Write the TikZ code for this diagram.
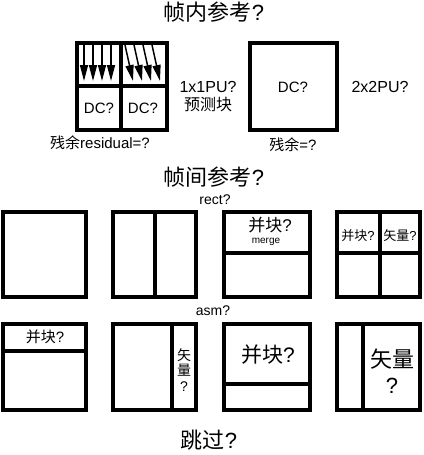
\documentclass[tikz,border=0pt]{standalone}
\usepackage{fontspec}
\setmainfont{Liberation Sans}
\newfontfamily\cjk{Noto Sans CJK SC}
\usetikzlibrary{arrows.meta}
\begin{document}
\begin{tikzpicture}[x=1pt,y=-1pt,
  frame/.style={line width=3.5pt},
  arr/.style={line width=1.5pt,-{Triangle[width=8pt,length=16pt]}},
  ttl/.style={inner sep=0pt,font=\fontsize{22}{24}\selectfont},
  lbl/.style={inner sep=0pt,font=\fontsize{15}{17}\selectfont},
  pul/.style={inner sep=0pt,font=\fontsize{16}{18}\selectfont},
  sub/.style={inner sep=0pt,font=\fontsize{14}{16}\selectfont}]
\useasboundingbox (0,0) rectangle (423,455);

% ---- intra ----
\node[ttl] (t1) at (214,12) {{\cjk 帧内参考}?};

% box A (1x1 PU)
\draw[frame] (77,43) rectangle (167,130);
\draw[frame] (121,43) -- (121,130);
\draw[frame] (77,86) -- (167,86);
\foreach \x in {84,93,102,111} \draw[arr] (\x,45) -- (\x,81);
\foreach \x in {125,134,143,152} \draw[arr] (\x,45) -- (\x+8,81);
\node[lbl] (dc1) at (99,108) {DC?};
\node[lbl] (dc2) at (143,108) {DC?};
\node[pul] (pu1) at (208,87) {1x1PU?};
\node[pul] (yc) at (208,105) {\cjk 预测块};
\node[lbl] (res1) at (100,143) {{\cjk 残余}residual=?};

% box B (2x2 PU)
\draw[frame] (250,43) rectangle (337,130);
\node[lbl] (dc3) at (293,87) {DC?};
\node[pul] (pu2) at (380,87) {2x2PU?};
\node[lbl] (res2) at (293,145) {{\cjk 残余}=?};

% ---- inter ----
\node[ttl] (t2) at (214,177) {{\cjk 帧间参考}?};
\node[sub] (rect) at (215,200) {rect?};

% row 1
\draw[frame] (3,212) rectangle (86,297);
\draw[frame] (113,212) rectangle (196,297);
\draw[frame] (155,212) -- (155,297);
\draw[frame] (224,212) rectangle (310,297);
\draw[frame] (224,253) -- (310,253);
\node[inner sep=0pt,font=\fontsize{17}{19}\selectfont] (m1) at (270,225) {{\cjk 并块}?};
\node[inner sep=0pt,font=\fontsize{10}{12}\selectfont] (mg) at (266,242) {merge};
\draw[frame] (337,212) rectangle (420,297);
\draw[frame] (380,212) -- (380,297);
\draw[frame] (337,253) -- (420,253);
\node[inner sep=0pt,font=\fontsize{13}{15}\selectfont] (m2) at (358,236) {{\cjk 并块}?};
\node[inner sep=0pt,font=\fontsize{13}{15}\selectfont] (v1) at (400,236) {{\cjk 矢量}?};

\node[sub] (asm) at (213,311) {asm?};

% row 2
\draw[frame] (3,324) rectangle (86,410);
\draw[frame] (3,351) -- (86,351);
\node[inner sep=0pt,font=\fontsize{15}{17}\selectfont] (m3) at (45,337) {{\cjk 并块}?};
\draw[frame] (113,324) rectangle (196,410);
\draw[frame] (172,324) -- (172,410);
\node[inner sep=0pt,font=\fontsize{14}{16}\selectfont,align=center] (v2) at (184,370) {{\cjk 矢}\\[-1pt]{\cjk 量}\\?};
\draw[frame] (224,324) rectangle (310,410);
\draw[frame] (224,384) -- (310,384);
\node[inner sep=0pt,font=\fontsize{21}{23}\selectfont] (m4) at (268,355) {{\cjk 并块}?};
\draw[frame] (337,324) rectangle (420,410);
\draw[frame] (363,324) -- (363,410);
\node[inner sep=0pt,font=\fontsize{22}{24}\selectfont,align=center] (v3) at (392,371) {{\cjk 矢量}\\[2pt]?};

% ---- skip ----
\node[ttl] (t3) at (209,440) {{\cjk 跳过}?};
\end{tikzpicture}
\end{document}
